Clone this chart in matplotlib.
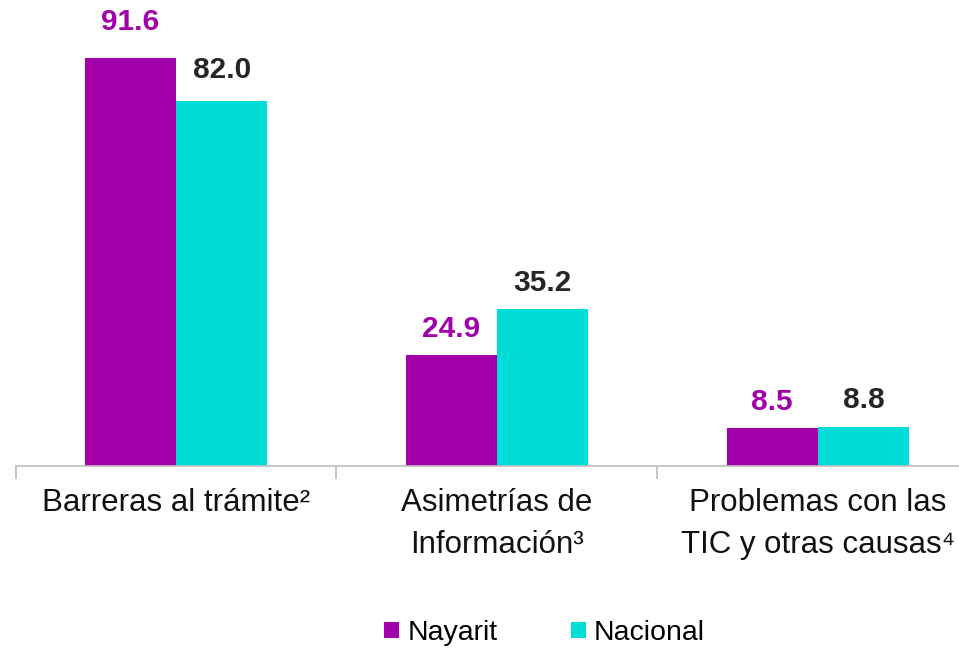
import matplotlib.pyplot as plt
import numpy as np

plt.rcParams['font.family'] = ['Liberation Sans', 'DejaVu Sans']

categories = ['Barreras al trámite²', 'Asimetrías de\nInformación³', 'Problemas con las\nTIC y otras causas⁴']
nayarit = [91.6, 24.9, 8.5]
nacional = [82.0, 35.2, 8.8]

purple = '#A100AA'
cyan = '#00DCD8'

fig = plt.figure(figsize=(9.59, 6.48), dpi=100)
ax = fig.add_axes([15.5 / 959, 182 / 648, 963 / 959, 445.4 / 648])

x = np.arange(len(categories))
w = 0.285
b1 = ax.bar(x - w / 2, nayarit, w, color=purple, label='Nayarit')
b2 = ax.bar(x + w / 2, nacional, w, color=cyan, label='Nacional')

# etiquetas de valor
for rect, v in zip(b1, nayarit):
    off = 16 if v == max(nayarit) else 9
    ax.annotate(f'{v:.1f}', (rect.get_x() + rect.get_width() / 2, v), xytext=(0, off),
                textcoords='offset points', ha='center', va='bottom',
                fontsize=21.5, fontweight='bold', color=purple, annotation_clip=False)
for rect, v in zip(b2, nacional):
    off = 12 if v == max(nacional) else 9
    ax.annotate(f'{v:.1f}', (rect.get_x() + rect.get_width() / 2, v), xytext=(0, off),
                textcoords='offset points', ha='center', va='bottom',
                fontsize=21.5, fontweight='bold', color='#262626', annotation_clip=False)

ax.set_xlim(-0.5, 2.5)
ax.set_ylim(0, 100)
ax.set_yticks([])
for s in ['top', 'right', 'left']:
    ax.spines[s].set_visible(False)
ax.spines['bottom'].set_color('#BFBFBF')
ax.spines['bottom'].set_linewidth(1.2)

ax.set_xticks([-0.5, 0.5, 1.5, 2.5])
ax.set_xticklabels([])
ax.tick_params(axis='x', which='major', length=9, color='#BFBFBF', width=1.2)
ax.set_xticks(x, minor=True)
ax.set_xticklabels(categories, minor=True, fontsize=22.5, color='#111111', linespacing=1.5)
ax.tick_params(axis='x', which='minor', length=0, pad=16)

fig.legend(handles=[b1, b2], labels=['Nayarit', 'Nacional'], loc='center',
           bbox_to_anchor=(0.568, 15 / 648), ncol=2, frameon=False, fontsize=20.5,
           handlelength=0.5, handleheight=0.5, handletextpad=0.3, columnspacing=2.6)

fig.savefig('out.png', dpi=100)
